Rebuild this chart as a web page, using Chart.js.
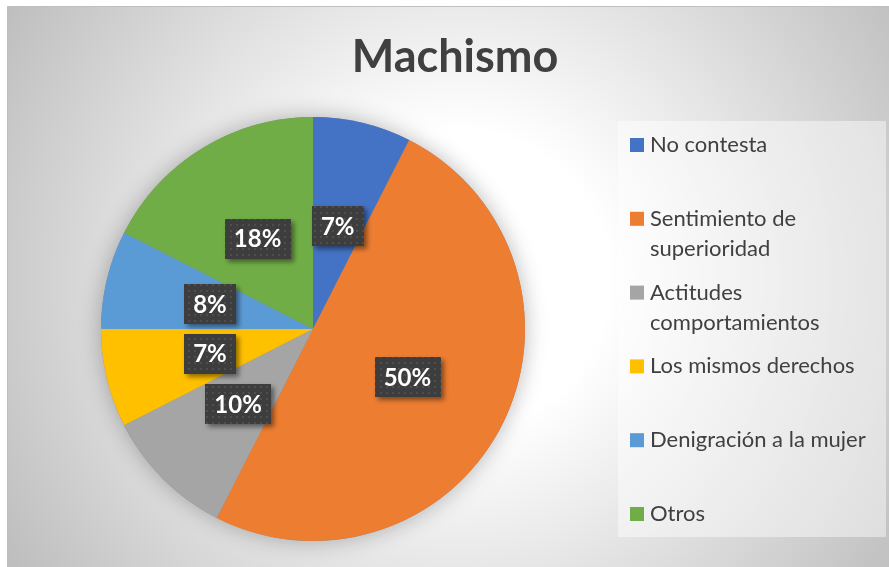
<!DOCTYPE html>
<html>
<head>
<meta charset="utf-8">
<script src="https://cdn.jsdelivr.net/npm/chart.js@4"></script>
<style>
  html, body { margin: 0; padding: 0; background: #ffffff; }
  canvas { display: block; }
</style>
</head>
<body>
<canvas id="pie" width="889" height="567"></canvas>
<script>
// Data
const chartTitle = 'Machismo';
const categories = ['No contesta', 'Sentimiento de superioridad', 'Actitudes comportamientos',
                    'Los mismos derechos', 'Denigración a la mujer', 'Otros'];
const legendLines = [['No contesta'], ['Sentimiento de', 'superioridad'], ['Actitudes', 'comportamientos'],
                     ['Los mismos derechos'], ['Denigración a la mujer'], ['Otros']];
const shares = [7.5, 50, 10, 7.5, 7.5, 17.5];
const shownLabels = ['7%', '50%', '10%', '7%', '8%', '18%'];
const sliceColors = ['#4472C4', '#ED7D31', '#A5A5A5', '#FFC000', '#5B9BD5', '#70AD47'];

const FONT = 'Lato, "Open Sans", sans-serif';
const TEXT_COLOR = '#404040';

// dotted texture for the label boxes
function makeDotPattern(ctx) {
    const p = document.createElement('canvas');
    p.width = 6; p.height = 6;
    const pc = p.getContext('2d');
    pc.fillStyle = '#3d3d3d';
    pc.fillRect(0, 0, 6, 6);
    pc.fillStyle = '#4e4e4e';
    pc.fillRect(2, 2, 2, 2);
    return ctx.createPattern(p, 'repeat');
}

const decorPlugin = {
    id: 'decor',
    beforeDraw(chart) {
        const ctx = chart.ctx;
        const W = chart.width, H = chart.height;
        ctx.save();
        ctx.fillStyle = '#ffffff';
        ctx.fillRect(0, 0, W, H);
        const g = ctx.createRadialGradient(460, 280, 0, 460, 280, 530);
        g.addColorStop(0, '#ffffff');
        g.addColorStop(0.28, '#ffffff');
        g.addColorStop(1, '#bebebe');
        ctx.fillStyle = g;
        ctx.fillRect(7, 6, W - 7, H - 6);
        ctx.strokeStyle = '#bfbfbf';
        ctx.lineWidth = 1;
        ctx.beginPath();
        ctx.moveTo(7.5, H);
        ctx.lineTo(7.5, 6.5);
        ctx.lineTo(W, 6.5);
        ctx.stroke();

        // title
        ctx.fillStyle = TEXT_COLOR;
        ctx.font = 'bold 45px ' + FONT;
        ctx.textAlign = 'center';
        ctx.textBaseline = 'alphabetic';
        ctx.fillText(chartTitle, 455, 72);

        // legend box + items
        ctx.fillStyle = 'rgba(255,255,255,0.45)';
        ctx.fillRect(618, 121, 268, 416);
        ctx.font = '22px ' + FONT;
        ctx.textAlign = 'left';
        legendLines.forEach((lines, i) => {
            const base = 152 + i * 73.8;
            ctx.fillStyle = sliceColors[i];
            ctx.fillRect(630, base - 14, 14, 14);
            ctx.fillStyle = TEXT_COLOR;
            lines.forEach((t, j) => ctx.fillText(t, 650, base + j * 30));
        });
        ctx.restore();
    },
    beforeDatasetsDraw(chart) {
        // soft shadow around the whole pie
        const arc = chart.getDatasetMeta(0).data[0];
        const ctx = chart.ctx;
        ctx.save();
        ctx.shadowColor = 'rgba(0,0,0,0.28)';
        ctx.shadowBlur = 22;
        ctx.fillStyle = '#888888';
        ctx.beginPath();
        ctx.arc(arc.x, arc.y, arc.outerRadius, 0, Math.PI * 2);
        ctx.fill();
        ctx.restore();
    },
    afterDatasetsDraw(chart) {
        const ctx = chart.ctx;
        const pattern = makeDotPattern(ctx);
        ctx.save();
        ctx.font = 'bold 24px ' + FONT;
        ctx.textAlign = 'center';
        ctx.textBaseline = 'middle';
        chart.getDatasetMeta(0).data.forEach((el, i) => {
            const pos = el.tooltipPosition();
            const txt = shownLabels[i];
            const w = ctx.measureText(txt).width + 18;
            const h = 40;
            ctx.save();
            ctx.shadowColor = 'rgba(0,0,0,0.45)';
            ctx.shadowBlur = 5;
            ctx.shadowOffsetX = 3;
            ctx.shadowOffsetY = 3;
            ctx.fillStyle = pattern;
            ctx.fillRect(Math.round(pos.x - w / 2), Math.round(pos.y - h / 2), Math.round(w), h);
            ctx.restore();
            ctx.fillStyle = '#ffffff';
            ctx.fillText(txt, pos.x, pos.y + 1);
        });
        ctx.restore();
    }
};

new Chart(document.getElementById('pie'), {
    type: 'pie',
    data: {
        labels: categories,
        datasets: [{
            data: shares,
            backgroundColor: sliceColors,
            borderWidth: 0
        }]
    },
    options: {
        responsive: false,
        animation: false,
        layout: { padding: { left: 101, right: 364, top: 117, bottom: 26 } },
        plugins: {
            legend: { display: false },
            tooltip: { enabled: false },
            title: { display: false }
        }
    },
    plugins: [decorPlugin]
});
</script>
</body>
</html>
